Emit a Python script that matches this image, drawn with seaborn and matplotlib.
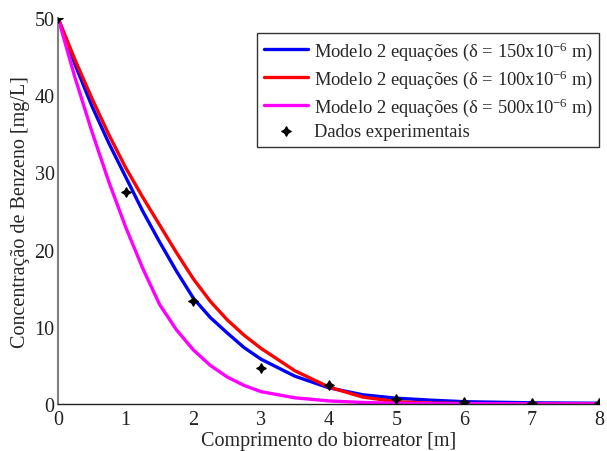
import numpy as np
import pandas as pd
import matplotlib
matplotlib.use("Agg")
import matplotlib.pyplot as plt
import seaborn as sns

# Model curves: benzene concentration along the bioreactor
x_model = [0, 0.25, 0.5, 0.75, 1, 1.25, 1.5, 1.75, 2, 2.25, 2.5, 2.75, 3,
           3.5, 4, 4.5, 5, 5.5, 6, 7, 8]
c_150 = [50, 44.0, 38.6, 33.8, 29.4, 25.0, 21.0, 17.2, 13.7, 11.2, 9.2, 7.3, 5.8,
         3.6, 2.1, 1.2, 0.75, 0.5, 0.3, 0.15, 0.1]
c_100 = [50, 44.6, 39.6, 34.9, 30.6, 26.8, 23.2, 19.6, 16.2, 13.3, 10.9, 8.9, 7.2,
         4.3, 2.2, 0.9, 0.3, 0.12, 0.06, 0.03, 0.02]
c_500 = [50, 42.3, 35.3, 28.8, 22.9, 17.6, 12.9, 9.6, 7.0, 5.0, 3.5, 2.4, 1.6,
         0.8, 0.4, 0.2, 0.1, 0.06, 0.04, 0.02, 0.02]

# Experimental data
x_exp = [0, 1, 2, 3, 4, 5, 6, 7, 8]
c_exp = [50, 27.5, 13.4, 4.7, 2.5, 0.7, 0.2, 0.1, 0.1]

labels = [
    "Modelo 2 equações (δ = 150x10$^{-6}$ m)",
    "Modelo 2 equações (δ = 100x10$^{-6}$ m)",
    "Modelo 2 equações (δ = 500x10$^{-6}$ m)",
]
colors = ["#0000ff", "#ff0000", "#ff00ff"]

model = pd.concat([
    pd.DataFrame({"x": x_model, "c": vals, "modelo": lab})
    for vals, lab in zip([c_150, c_100, c_500], labels)
])
exp = pd.DataFrame({"x": x_exp, "c": c_exp})

sns.set_style("white")
plt.rcParams["font.family"] = ["Liberation Serif", "DejaVu Serif"]
plt.rcParams["mathtext.fontset"] = "custom"
plt.rcParams["mathtext.rm"] = "Liberation Serif"
plt.rcParams["mathtext.it"] = "Liberation Serif:italic"

fig = plt.figure(figsize=(6.07, 4.52), dpi=100)
ax = fig.add_axes([0.0956, 0.104, 0.892, 0.854])

sns.lineplot(data=model, x="x", y="c", hue="modelo", palette=colors,
             hue_order=labels, linewidth=2.4, ax=ax, sort=False)
sns.scatterplot(data=exp, x="x", y="c", marker=(4, 1, 0), s=45,
                color="black", edgecolor="black", linewidth=1.0,
                label="Dados experimentais", ax=ax, zorder=5)

ax.set_xlim(0, 8)
ax.set_ylim(0, 50)
ax.set_xticks(range(0, 9))
ax.set_yticks([0, 10, 20, 30, 40, 50])
ax.tick_params(axis="both", direction="in", length=3.5, width=0.8,
               labelsize=14.5, colors="#222222")
ax.tick_params(axis="x", pad=4.5)
ax.tick_params(axis="y", pad=2.5)
ax.set_xlabel("Comprimento do biorreator [m]", fontsize=14.5, labelpad=1)
ax.set_ylabel("Concentração de Benzeno [mg/L]", fontsize=14.5, labelpad=3)

for side in ("top", "right"):
    ax.spines[side].set_visible(False)
ax.spines["left"].set_color("#808080")
ax.spines["left"].set_linewidth(1.5)
ax.spines["bottom"].set_color("#222222")
ax.spines["bottom"].set_linewidth(1.0)

leg = ax.legend(loc="upper right", bbox_to_anchor=(1.0, 0.962), fontsize=13.3,
                frameon=True, fancybox=False, edgecolor="black",
                handlelength=2.4, borderpad=0.35, labelspacing=0.3,
                handletextpad=0.3, borderaxespad=0.0)
leg.get_frame().set_linewidth(1.0)

fig.savefig("out.png", dpi=100)
